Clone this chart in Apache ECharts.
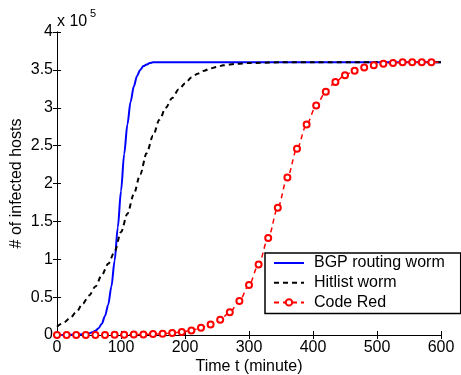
<!DOCTYPE html>
<html>
<head>
<meta charset="utf-8">
<script src="https://cdn.jsdelivr.net/npm/echarts@6/dist/echarts.min.js"></script>
<style>
html,body{margin:0;padding:0;background:#fff;}
#chart{width:461px;height:375px;}
</style>
</head>
<body>
<div id="chart"></div>
<script>
// values in units of 10^5 infected hosts
var xTicks = [0, 100, 200, 300, 400, 500, 600];
var yTicks = [0, 0.5, 1, 1.5, 2, 2.5, 3, 3.5, 4];

var bgpTime = [0,10,20,30,40,50,55,60,65,70,75,80,85,90,95,100,105,110,115,120,125,130,135,140,145,150,160,200,300,400,500,600];
var bgpHosts = [0,0,0.002,0.005,0.01,0.02,0.035,0.055,0.09,0.15,0.25,0.40,0.64,0.98,1.42,1.90,2.39,2.78,3.08,3.28,3.42,3.50,3.55,3.57,3.59,3.6,3.6,3.6,3.6,3.6,3.6,3.6];

var hitTime = [0,10,20,30,40,50,60,70,80,90,100,110,120,130,140,150,160,170,180,190,200,210,220,230,240,250,260,280,300,350,400,500,600];
var hitHosts = [0.11,0.16,0.22,0.30,0.41,0.52,0.64,0.79,0.94,1.10,1.36,1.60,1.86,2.12,2.40,2.63,2.84,3.00,3.13,3.24,3.32,3.40,3.45,3.49,3.52,3.54,3.56,3.58,3.59,3.6,3.6,3.6,3.6];

var crTime = [0,15,30,45,60,75,90,105,120,135,150,165,180,195,210,225,240,255,270,285,300,315,330,345,360,375,390,405,420,435,450,465,480,495,510,525,540,555,570,585,600];
var crHosts = [0,0,0,0,0,0,0.002,0.003,0.005,0.008,0.012,0.017,0.026,0.04,0.06,0.095,0.14,0.2,0.3,0.45,0.66,0.93,1.28,1.68,2.08,2.46,2.78,3.03,3.21,3.34,3.43,3.49,3.53,3.56,3.58,3.59,3.6,3.6,3.6,3.6,3.6];

var seriesNames = ['BGP routing worm', 'Hitlist worm', 'Code Red'];

function pairs(t, v) { var o = []; for (var i = 0; i < t.length; i++) o.push([t[i], v[i]]); return o; }
var crData = pairs(crTime, crHosts);
crData[crData.length - 1] = { value: crData[crData.length - 1], symbol: 'none' };

var FONT = 'Liberation Sans, Arial, sans-serif';
var chart = echarts.init(document.getElementById('chart'), null, {renderer: 'canvas'});
var axLine = {show: true, lineStyle: {color: '#000', width: 1}};
chart.setOption({
  animation: false,
  backgroundColor: '#fff',
  grid: {left: 57, right: 20, top: 32, bottom: 40, containLabel: false, outerBoundsMode: 'none'},
  xAxis: [{
    type: 'value', min: xTicks[0], max: xTicks[xTicks.length - 1], interval: 100,
    name: 'Time t (minute)', nameLocation: 'middle', nameGap: 24, nameMoveOverlap: false,
    nameTextStyle: {fontSize: 16, fontFamily: FONT, color: '#000'},
    axisLine: axLine, axisTick: {show: true, inside: true, length: 4, lineStyle: {color: '#000'}},
    axisLabel: {fontSize: 16, fontFamily: FONT, color: '#000', margin: 5},
    splitLine: {show: false}
  }, {
    type: 'value', position: 'top', min: xTicks[0], max: xTicks[xTicks.length - 1], interval: 100,
    axisLine: axLine, axisTick: {show: true, inside: true, length: 4, lineStyle: {color: '#000'}},
    axisLabel: {show: false}, splitLine: {show: false}
  }],
  yAxis: [{
    type: 'value', min: yTicks[0], max: yTicks[yTicks.length - 1], interval: 0.5,
    name: '# of infected hosts', nameLocation: 'middle', nameGap: 32, nameMoveOverlap: false,
    nameTextStyle: {fontSize: 16, fontFamily: FONT, color: '#000'},
    axisLine: axLine, axisTick: {show: true, inside: true, length: 4, lineStyle: {color: '#000'}},
    axisLabel: {fontSize: 16, fontFamily: FONT, color: '#000', margin: 4},
    splitLine: {show: false}
  }, {
    type: 'value', position: 'right', min: yTicks[0], max: yTicks[yTicks.length - 1], interval: 0.5,
    axisLine: axLine, axisTick: {show: true, inside: true, length: 4, lineStyle: {color: '#000'}},
    axisLabel: {show: false}, splitLine: {show: false}
  }],
  legend: {
    orient: 'vertical', left: 265, top: 253, align: 'left',
    backgroundColor: '#fff', borderColor: '#000', borderWidth: 1.5,
    padding: [2, 16, 3, 8], itemGap: 3.7, itemWidth: 30, itemHeight: 8,
    textStyle: {fontSize: 16, fontFamily: FONT, color: '#000', padding: [0, 0, 0, 5]},
    data: [
      {name: seriesNames[0], itemStyle: {opacity: 0}},
      {name: seriesNames[1], itemStyle: {opacity: 0}},
      {name: seriesNames[2]}
    ]
  },
  graphic: [
    {type: 'text', left: 57, top: 14, style: {text: 'x 10', font: '16px ' + FONT, fill: '#000'}},
    {type: 'text', left: 90, top: 8, style: {text: '5', font: '11px ' + FONT, fill: '#000'}}
  ],
  series: [
    {name: seriesNames[0], type: 'line', data: pairs(bgpTime, bgpHosts), symbol: 'none', smooth: 0.3, smoothMonotone: 'x',
     lineStyle: {color: '#0000ff', width: 2}, itemStyle: {color: '#0000ff'}},
    {name: seriesNames[1], type: 'line', data: pairs(hitTime, hitHosts), symbol: 'none', smooth: 0.3, smoothMonotone: 'x',
     lineStyle: {color: '#000', width: 2, type: [5, 4]}, itemStyle: {color: '#000'}},
    {name: seriesNames[2], type: 'line', data: crData, symbol: 'emptyCircle', symbolSize: 6, showAllSymbol: true,
     smooth: 0.3, smoothMonotone: 'x',
     lineStyle: {color: '#ff0000', width: 1.5, type: [5, 4]}, itemStyle: {color: '#ff0000', borderColor: '#ff0000', borderWidth: 1.5}}
  ]
});
</script>
</body>
</html>
